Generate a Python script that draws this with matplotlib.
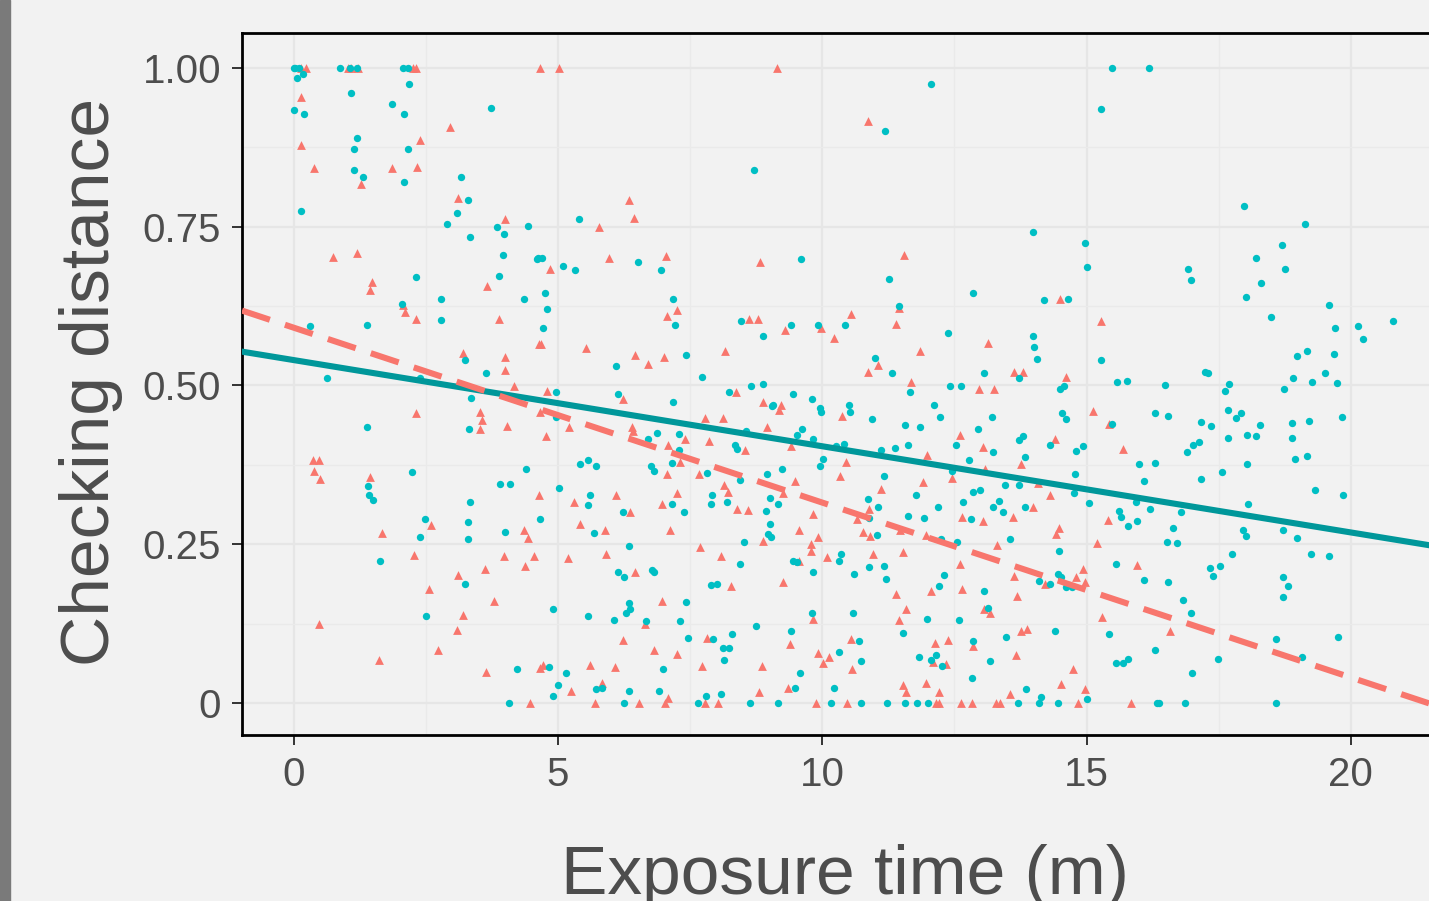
import numpy as np
import matplotlib.pyplot as plt
from matplotlib.patches import Rectangle

plt.rcParams['font.family'] = ['Liberation Sans', 'DejaVu Sans']

# red group (triangles): x = exposure time (m), y = checking distance
red_x = [0.13, 0.23, 1.02, 1.08, 1.21, 2.25, 2.32, 4.66, 5.01, 9.15,
         0.13, 2.95, 2.38, 0.13, 0.39, 1.86, 2.34, 1.27, 3.11, 4.0, 0.75, 1.20,
         6.35, 6.43, 5.78, 5.97, 7.05, 8.82, 4.84, 10.86, 11.55,
         1.48, 1.44, 3.65, 2.07, 2.11, 2.32, 3.88, 4.64, 3.21, 4.0, 4.0, 4.16, 2.32, 3.53,
         3.57, 3.52, 4.04, 0.37, 0.47, 0.39, 0.49, 1.44, 4.64,
         4.68, 5.52, 7.07, 7.25, 6.45, 6.71, 7.01, 8.62, 8.79, 9.29, 9.98, 10.22, 8.16,
         4.79, 6.23, 8.36, 8.88, 9.21, 9.18, 4.65, 5.20, 4.78, 6.39, 6.41, 7.40, 7.79,
         8.12, 7.86, 7.09, 7.30, 8.53, 8.96, 9.41, 7.07, 7.66, 9.49, 8.14, 8.22, 9.25,
         5.30, 6.09, 7.26, 6.96,
         14.49, 11.45, 10.55, 11.40, 13.14, 15.27, 11.85, 11.06, 10.86, 11.67, 13.63,
         13.80, 12.97, 13.25, 14.62, 10.38, 15.13, 15.43, 12.61, 14.40, 15.69, 11.98,
         13.04, 13.76, 10.44, 10.34, 12.46, 13.08, 11.91, 11.12, 14.08, 14.30,
         2.59, 1.67, 4.36, 4.44, 2.28, 3.97, 4.54, 3.61, 4.38, 3.11, 2.55, 3.78, 3.21,
         0.47, 3.09, 2.72, 1.62, 3.63, 4.65, 4.46,
         8.38, 8.60, 6.36, 9.83, 5.42, 5.89, 7.12, 9.55, 9.91, 8.87, 9.78, 9.78, 7.68,
         5.19, 5.91, 8.08, 9.55, 10.08, 6.45, 8.27, 9.25, 6.96, 6.65, 9.83, 9.39, 6.22,
         7.81, 6.81, 7.25, 4.72, 5.61, 6.07, 7.72, 8.85, 9.91, 10.12, 10.01, 5.25, 5.84,
         7.09, 8.81, 9.35, 5.70, 6.53, 7.03, 7.78, 8.02, 9.89,
         10.88, 13.98, 10.65, 12.65, 13.04, 13.60, 15.41, 10.77, 10.90, 11.47, 11.97,
         13.31, 14.42, 14.48, 15.19, 10.96, 11.52, 12.60, 13.62, 14.21, 14.81, 14.94,
         14.98, 11.40, 12.05, 12.64, 13.68, 11.59, 11.45, 13.06, 13.17, 15.29, 13.76,
         13.88, 10.55, 12.13, 12.37, 12.85, 10.56, 12.09, 12.34, 13.67, 14.74, 11.53,
         11.59, 11.97, 12.21, 13.56, 14.52, 14.97,
         10.46, 12.15, 12.20, 12.63, 12.83, 13.28, 13.37, 14.83, 15.84, 15.95, 16.58]
red_y = [1.0, 1.0, 1.0, 1.0, 1.0, 1.0, 1.0, 1.0, 1.0, 1.0,
         0.955, 0.907, 0.887, 0.878, 0.843, 0.843, 0.844, 0.817, 0.796, 0.762, 0.703, 0.708,
         0.792, 0.764, 0.750, 0.701, 0.704, 0.694, 0.684, 0.917, 0.706,
         0.663, 0.651, 0.656, 0.626, 0.615, 0.605, 0.605, 0.565, 0.551, 0.545, 0.525, 0.499, 0.456, 0.458,
         0.446, 0.431, 0.436, 0.383, 0.383, 0.365, 0.352, 0.356, 0.328,
         0.566, 0.559, 0.610, 0.619, 0.548, 0.534, 0.545, 0.605, 0.605, 0.588, 0.590, 0.575, 0.554,
         0.491, 0.478, 0.489, 0.474, 0.469, 0.462, 0.459, 0.434, 0.421, 0.434, 0.429, 0.415, 0.449,
         0.449, 0.413, 0.407, 0.380, 0.398, 0.435, 0.405, 0.361, 0.361, 0.350, 0.344, 0.333, 0.330,
         0.317, 0.328, 0.331, 0.313,
         0.636, 0.622, 0.613, 0.597, 0.567, 0.602, 0.555, 0.532, 0.522, 0.506, 0.521,
         0.522, 0.494, 0.494, 0.514, 0.452, 0.460, 0.439, 0.422, 0.415, 0.400, 0.390,
         0.403, 0.376, 0.380, 0.357, 0.355, 0.368, 0.348, 0.337, 0.346, 0.328,
         0.280, 0.267, 0.272, 0.260, 0.233, 0.231, 0.231, 0.211, 0.215, 0.201, 0.180, 0.160, 0.139,
         0.124, 0.115, 0.083, 0.067, 0.049, 0.055, 0.0,
         0.306, 0.304, 0.300, 0.297, 0.282, 0.273, 0.273, 0.272, 0.262, 0.255, 0.250, 0.240, 0.246,
         0.229, 0.234, 0.232, 0.224, 0.230, 0.206, 0.185, 0.190, 0.160, 0.124, 0.132, 0.093, 0.099,
         0.103, 0.084, 0.077, 0.060, 0.060, 0.057, 0.058, 0.059, 0.078, 0.073, 0.063, 0.019, 0.032,
         0.008, 0.017, 0.024, 0.0, 0.0, 0.0, 0.0, 0.0, 0.0,
         0.306, 0.308, 0.290, 0.293, 0.287, 0.293, 0.288, 0.269, 0.263, 0.273, 0.265,
         0.249, 0.266, 0.275, 0.252, 0.234, 0.237, 0.219, 0.200, 0.187, 0.199, 0.211,
         0.191, 0.172, 0.176, 0.180, 0.169, 0.148, 0.130, 0.148, 0.142, 0.135, 0.113,
         0.117, 0.100, 0.094, 0.099, 0.090, 0.054, 0.064, 0.061, 0.075, 0.054, 0.028,
         0.017, 0.031, 0.017, 0.014, 0.030, 0.022,
         0.0, 0.0, 0.0, 0.0, 0.0, 0.0, 0.0, 0.0, 0.0, 0.217, 0.114]

# teal group (dots)
teal_x = [0.0, 0.02, 0.1, 0.88, 1.06, 1.19, 2.06, 2.16, 15.49, 16.18,
          0.18, 0.07, 1.09, 2.18, 1.86, 2.08, 0.0, 0.20, 3.74, 1.20, 1.14, 2.16, 1.14,
          1.31, 2.08, 3.17, 3.29, 0.13, 3.09, 2.89, 4.43, 3.84, 3.97, 3.33, 3.95, 4.60,
          8.71, 5.39, 4.62, 4.69, 5.10, 6.51, 9.59, 5.33, 6.94,
          12.05, 11.18, 15.27, 13.99, 14.97, 15.01,
          17.98, 19.13, 18.69, 18.21, 16.92, 18.75,
          2.32, 3.88, 2.79, 4.36, 2.04, 2.78, 0.31, 1.38, 3.24, 3.63, 0.63, 2.39, 3.35,
          3.31, 1.38, 2.24, 4.40, 3.91, 4.09, 1.40, 1.42, 1.50, 3.33,
          4.76, 4.80, 4.72, 7.18, 7.21, 7.42, 6.09, 8.46, 8.87, 9.41, 9.91, 7.72, 4.96,
          6.14, 7.18, 8.65, 8.87, 8.24, 9.07, 9.05, 9.45, 9.81, 9.96, 9.97, 4.96, 6.88,
          6.71, 7.29, 7.28, 7.15, 8.34, 8.38, 8.56, 9.62, 9.52, 9.83, 10.01, 9.96, 5.42,
          5.56, 5.72, 6.75, 6.81, 7.82, 8.44, 8.96, 9.23, 7.92, 8.20, 9.01, 9.17, 5.02,
          5.61, 5.57, 7.16, 7.90,
          11.26, 12.85, 14.20, 14.64, 11.45, 10.43, 12.37, 13.98, 14.0, 14.06, 15.27,
          11.00, 11.31, 11.66, 12.41, 12.63, 13.06, 13.72, 14.49, 14.58, 15.57, 15.77,
          10.50, 10.52, 10.95, 12.11, 12.23, 11.57, 11.85, 13.21, 12.95, 14.54, 14.62,
          15.49, 13.72, 13.79, 14.30, 14.81, 14.94, 10.41, 10.26, 11.12, 11.38, 11.62,
          12.53, 13.23, 12.77, 13.84, 11.16, 12.46, 10.86, 11.78, 12.85, 12.99, 13.46,
          13.72, 14.78, 14.76, 12.67, 13.35, 15.05,
          16.98, 18.31, 18.01, 19.58, 18.49, 19.70, 20.14, 20.24, 20.79, 18.98, 19.17,
          19.68, 17.24, 17.30, 16.49, 17.70, 17.62, 18.91, 18.73, 19.27, 19.51, 19.74,
          16.29, 16.54, 17.17, 17.36, 17.68, 17.82, 17.93, 18.28, 18.03, 18.20, 18.89,
          19.21, 19.83, 17.68, 18.89, 16.90, 17.02, 17.12, 15.99, 16.29, 18.03, 18.95,
          19.17, 16.09, 17.17, 17.57, 19.32, 19.85, 18.05, 15.94,
          2.48, 3.30, 2.38, 3.30, 4.0, 4.65, 1.64, 3.24, 2.50, 4.22, 4.07,
          8.93, 6.23, 7.39, 5.68, 9.01, 8.97, 9.03, 8.51, 6.35, 8.44, 9.45, 9.52, 9.83,
          6.14, 6.25, 6.78, 6.81, 7.90, 8.0, 4.90, 5.56, 6.05, 6.35, 6.36, 6.29, 6.67,
          7.42, 7.30, 8.75, 9.80, 9.41, 7.46, 7.93, 8.30, 8.12, 8.24, 8.14, 4.82, 5.16,
          6.98, 9.57, 4.99, 4.90, 5.71, 5.83, 6.35, 6.91, 7.80, 8.08, 9.49, 10.22,
          6.25, 7.64, 8.63, 9.17, 10.16,
          11.06, 12.19, 13.23, 13.42, 13.84, 15.62, 15.65, 15.79, 10.89, 11.62, 11.93,
          12.81, 11.04, 12.24, 12.55, 13.55, 10.36, 10.32, 14.47, 10.88, 11.16, 11.20,
          10.60, 15.56, 12.31, 12.21, 14.10, 14.30, 14.46, 14.51, 14.61, 14.73, 13.06,
          10.58, 13.14, 11.99, 12.59, 11.52, 15.43, 14.41, 13.47, 10.70, 12.85, 10.32,
          10.74, 11.83, 12.06, 12.16, 12.27, 13.18, 15.56, 15.69, 15.79, 12.83, 13.86,
          14.13, 15.00,
          10.74, 11.22, 11.56, 11.79, 12.0, 13.70, 14.10, 14.46,
          16.20, 16.78, 15.95, 16.63, 16.52, 16.72, 17.96, 18.02, 18.71, 18.98, 17.75,
          19.25, 19.58, 16.09, 16.54, 17.34, 17.52, 17.40, 18.71, 18.81, 18.71, 16.82,
          16.97, 18.59, 19.76, 16.29, 17.48, 19.07, 17.00,
          16.34, 16.37, 16.86, 18.59]
teal_y = [1.0, 1.0, 1.0, 1.0, 1.0, 1.0, 1.0, 1.0, 1.0, 1.0,
          0.990, 0.985, 0.961, 0.974, 0.943, 0.928, 0.934, 0.928, 0.937, 0.890, 0.873, 0.873, 0.839,
          0.828, 0.820, 0.828, 0.792, 0.775, 0.771, 0.755, 0.751, 0.749, 0.739, 0.734, 0.706, 0.699,
          0.840, 0.762, 0.700, 0.700, 0.688, 0.694, 0.699, 0.682, 0.682,
          0.974, 0.901, 0.936, 0.741, 0.724, 0.686,
          0.782, 0.755, 0.722, 0.701, 0.683, 0.683,
          0.671, 0.672, 0.636, 0.636, 0.628, 0.603, 0.593, 0.595, 0.540, 0.519, 0.512, 0.512, 0.480,
          0.431, 0.435, 0.364, 0.368, 0.345, 0.345, 0.341, 0.328, 0.320, 0.317,
          0.646, 0.620, 0.591, 0.636, 0.596, 0.548, 0.530, 0.602, 0.578, 0.595, 0.595, 0.513, 0.489,
          0.486, 0.474, 0.499, 0.502, 0.489, 0.470, 0.467, 0.486, 0.479, 0.464, 0.458, 0.450, 0.425,
          0.416, 0.424, 0.398, 0.378, 0.406, 0.400, 0.428, 0.431, 0.422, 0.415, 0.385, 0.373, 0.377,
          0.383, 0.373, 0.373, 0.366, 0.362, 0.351, 0.360, 0.368, 0.327, 0.317, 0.323, 0.314, 0.338,
          0.328, 0.312, 0.313, 0.314,
          0.668, 0.646, 0.635, 0.636, 0.625, 0.595, 0.583, 0.578, 0.560, 0.542, 0.540,
          0.543, 0.519, 0.490, 0.499, 0.499, 0.519, 0.512, 0.495, 0.499, 0.506, 0.507,
          0.470, 0.458, 0.447, 0.470, 0.450, 0.437, 0.434, 0.450, 0.432, 0.456, 0.448,
          0.439, 0.414, 0.420, 0.407, 0.397, 0.404, 0.408, 0.404, 0.398, 0.401, 0.406,
          0.407, 0.396, 0.383, 0.387, 0.357, 0.366, 0.321, 0.327, 0.333, 0.336, 0.343,
          0.344, 0.360, 0.330, 0.317, 0.318, 0.315,
          0.666, 0.661, 0.639, 0.626, 0.608, 0.590, 0.593, 0.573, 0.602, 0.546, 0.555,
          0.550, 0.522, 0.519, 0.500, 0.502, 0.492, 0.512, 0.495, 0.506, 0.519, 0.504,
          0.456, 0.452, 0.443, 0.436, 0.462, 0.449, 0.457, 0.437, 0.422, 0.420, 0.441,
          0.444, 0.450, 0.417, 0.417, 0.396, 0.406, 0.411, 0.376, 0.378, 0.376, 0.384,
          0.389, 0.350, 0.353, 0.364, 0.336, 0.327, 0.314, 0.317,
          0.290, 0.285, 0.262, 0.258, 0.269, 0.290, 0.224, 0.187, 0.137, 0.053, 0.0,
          0.303, 0.300, 0.301, 0.268, 0.282, 0.266, 0.262, 0.254, 0.247, 0.219, 0.224, 0.222, 0.206,
          0.206, 0.199, 0.209, 0.207, 0.186, 0.187, 0.148, 0.137, 0.131, 0.157, 0.148, 0.141, 0.129,
          0.159, 0.129, 0.122, 0.142, 0.114, 0.103, 0.101, 0.109, 0.086, 0.087, 0.068, 0.056, 0.048,
          0.053, 0.047, 0.028, 0.011, 0.022, 0.023, 0.019, 0.019, 0.011, 0.014, 0.023, 0.023,
          0.0, 0.0, 0.0, 0.0, 0.0,
          0.308, 0.309, 0.309, 0.301, 0.308, 0.303, 0.293, 0.279, 0.291, 0.295, 0.292,
          0.290, 0.265, 0.258, 0.254, 0.258, 0.234, 0.224, 0.239, 0.214, 0.215, 0.195,
          0.203, 0.219, 0.201, 0.185, 0.192, 0.187, 0.203, 0.199, 0.182, 0.182, 0.177,
          0.141, 0.149, 0.133, 0.131, 0.111, 0.108, 0.113, 0.104, 0.098, 0.097, 0.081,
          0.066, 0.073, 0.068, 0.075, 0.059, 0.066, 0.063, 0.063, 0.069, 0.040, 0.022,
          0.010, 0.007,
          0.0, 0.0, 0.0, 0.0, 0.0, 0.0, 0.0, 0.0,
          0.306, 0.300, 0.287, 0.275, 0.254, 0.252, 0.273, 0.263, 0.273, 0.260, 0.235,
          0.235, 0.232, 0.194, 0.191, 0.212, 0.215, 0.200, 0.199, 0.184, 0.167, 0.162,
          0.142, 0.101, 0.104, 0.084, 0.070, 0.072, 0.047,
          0.0, 0.0, 0.0, 0.0]

# fitted lines: (intercept, slope)
teal_fit = (0.540, -0.01357)
red_fit = (0.591, -0.02754)

x_ticks = [0, 5, 10, 15, 20]
y_ticks = [0, 0.25, 0.50, 0.75, 1.00]
y_tick_labels = ['0', '0.25', '0.50', '0.75', '1.00']

TEAL = '#00BFC4'
TEAL_LINE = '#00979A'
RED = '#F8766D'
BG = '#F2F2F2'
TXT = '#4D4D4D'

W, H = 1429, 901
fig = plt.figure(figsize=(W / 100, H / 100), dpi=100, facecolor=BG)

# dark strip at the left edge of the screenshot
fig.patches.append(Rectangle((0, 0), 10 / W, 1, transform=fig.transFigure,
                             color='#7A7A7A', zorder=-5))

ax = fig.add_axes([242 / W, 166 / H, (W - 242) / W, 702 / H])
ax.set_facecolor(BG)

ax.scatter(red_x, red_y, marker='^', s=40, color=RED, linewidths=0, zorder=3)
ax.scatter(teal_x, teal_y, marker='o', s=28, color=TEAL, linewidths=0, zorder=3)

ax.axline((0, teal_fit[0]), slope=teal_fit[1], color=TEAL_LINE, lw=4.4, zorder=4)
red_line = ax.axline((0, red_fit[0]), slope=red_fit[1], color=RED, lw=4.4, zorder=5)
red_line.set_dashes([4.8, 2.6])

ax.set_xlim(-0.98, 21.48)
ax.set_ylim(-0.0504, 1.0551)

ax.set_xticks(x_ticks)
ax.set_xticks([2.5, 7.5, 12.5, 17.5], minor=True)
ax.set_yticks(y_ticks)
ax.set_yticklabels(y_tick_labels)
ax.set_yticks([0.125, 0.375, 0.625, 0.875], minor=True)

ax.grid(which='major', color='#E6E6E6', lw=1.6, zorder=0)
ax.grid(which='minor', color='#EAEAEA', lw=0.9, zorder=0)
ax.set_axisbelow(True)

ax.tick_params(axis='both', which='major', labelsize=29, labelcolor=TXT,
               color='#333333', length=7, width=1.4, pad=8)
ax.tick_params(axis='both', which='minor', length=0)

for side in ['left', 'bottom', 'top']:
    ax.spines[side].set_color('black')
    ax.spines[side].set_linewidth(2.0)
ax.spines['right'].set_visible(False)

fig.text(845 / W, 7 / H, 'Exposure time (m)', fontsize=50, color=TXT,
         ha='center', va='baseline')
fig.text(109 / W, 519 / H, 'Checking distance', fontsize=50, color=TXT,
         ha='center', va='baseline', rotation=90, rotation_mode='anchor')

fig.savefig('out.png', dpi=100, facecolor=BG)
